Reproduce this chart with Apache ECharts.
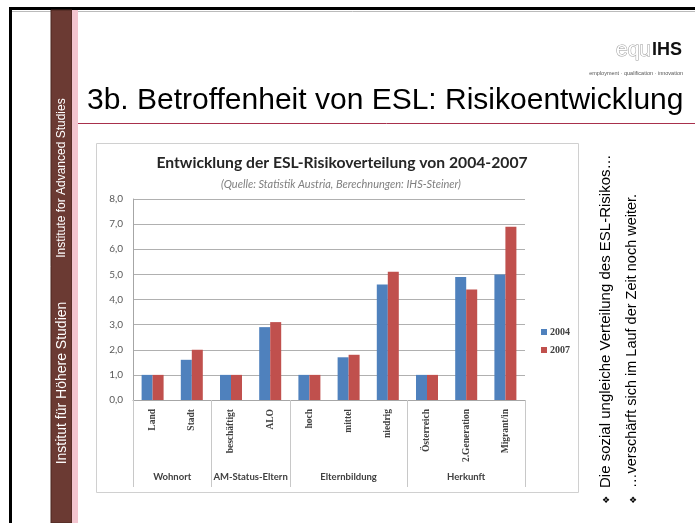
<!DOCTYPE html>
<html>
<head>
<meta charset="utf-8">
<script src="https://cdn.jsdelivr.net/npm/echarts@6/dist/echarts.min.js"></script>
<style>
html, body { margin: 0; padding: 0; background: #fff; }
#chart { width: 695px; height: 523px; }
</style>
</head>
<body>
<div id="chart"></div>
<script>
// Daten
var categories = ['Land', 'Stadt', 'beschäftigt', 'ALO', 'hoch', 'mittel', 'niedrig', 'Österreich', '2.Generation', 'Migrant/in'];
var groups = ['Wohnort', 'AM-Status-Eltern', 'Elternbildung', 'Herkunft'];
var groupSizes = [2, 2, 3, 3];
var values2004 = [1.0, 1.6, 1.0, 2.9, 1.0, 1.7, 4.6, 1.0, 4.9, 5.0];
var values2007 = [1.0, 2.0, 1.0, 3.1, 1.0, 1.8, 5.1, 1.0, 4.4, 6.9];
var seriesNames = ['2004', '2007'];

// Gruppengrenzen und -mitten fuer die zweite Achsenebene
var groupBounds = [0];
var groupCenters = [];
groupSizes.forEach(function (n, i) {
    var start = groupBounds[i];
    groupBounds.push(start + n);
    groupCenters.push(start + n / 2);
});

var dom = document.getElementById('chart');
var chart = echarts.init(dom, null, { renderer: 'canvas' });

var sans = 'Lato, "Open Sans", sans-serif';
var arial = '"Liberation Sans", Arial, sans-serif';

chart.setOption({
    animation: false,
    backgroundColor: '#ffffff',
    title: [
        {
            text: 'Entwicklung der ESL-Risikoverteilung von 2004-2007',
            left: 337,
            top: 150,
            textAlign: 'center',
            textStyle: { fontFamily: sans, fontSize: 15.7, fontWeight: 'bold', color: '#262626' }
        },
        {
            text: '(Quelle: Statistik Austria, Berechnungen: IHS-Steiner)',
            left: 336,
            top: 174,
            textAlign: 'center',
            textStyle: { fontFamily: sans, fontSize: 11, fontStyle: 'italic', fontWeight: 'normal', color: '#7f7f7f' }
        }
    ],
    legend: {
        orient: 'vertical',
        left: 536,
        top: 322,
        itemWidth: 6,
        itemHeight: 6,
        itemGap: 8,
        icon: 'rect',
        data: seriesNames,
        textStyle: { fontFamily: '"Liberation Serif", serif', fontSize: 10, fontWeight: 'bold', color: '#404040', padding: [0, 0, 0, -2] }
    },
    grid: {
        left: 133,
        right: 170,
        top: 199,
        bottom: 123,
        containLabel: false
    },
    xAxis: [
        {
            type: 'category',
            data: categories,
            axisLine: { lineStyle: { color: '#a6a6a6' } },
            axisTick: { show: false },
            axisLabel: {
                rotate: 90,
                margin: 9,
                fontFamily: '"Liberation Serif", serif',
                fontSize: 9.5,
                fontWeight: 'bold',
                color: '#404040'
            }
        },
        {
            type: 'value',
            position: 'bottom',
            min: 0,
            max: categories.length,
            axisLine: { show: false },
            splitLine: { show: false },
            axisTick: {
                show: true,
                length: 87,
                customValues: groupBounds,
                lineStyle: { color: '#c8c8c8' }
            },
            axisLabel: {
                show: true,
                margin: 72,
                customValues: groupCenters,
                fontFamily: sans,
                fontSize: 9.5,
                fontWeight: 'bold',
                color: '#404040',
                formatter: function (v) {
                    var i = groupCenters.indexOf(v);
                    return i >= 0 ? groups[i] : '';
                }
            }
        }
    ],
    yAxis: {
        type: 'value',
        min: 0,
        max: 8,
        interval: 1,
        axisLine: { show: true, lineStyle: { color: '#a6a6a6' } },
        axisTick: { show: false },
        splitLine: { lineStyle: { color: '#b0b0b0' } },
        axisLabel: {
            margin: 10,
            fontFamily: sans,
            fontSize: 10,
            color: '#595959',
            formatter: function (v) { return v.toFixed(1).replace('.', ','); }
        }
    },
    series: [
        {
            name: seriesNames[0],
            type: 'bar',
            barWidth: 11,
            barGap: '0%',
            itemStyle: { color: '#4f81bd' },
            data: values2004
        },
        {
            name: seriesNames[1],
            type: 'bar',
            barWidth: 11,
            barGap: '0%',
            itemStyle: { color: '#c0504d' },
            data: values2007
        }
    ],
    graphic: [
        // Folienrahmen
        { type: 'line', shape: { x1: 10, y1: 8.5, x2: 695, y2: 8.5 }, style: { stroke: '#000', lineWidth: 3 } },
        { type: 'line', shape: { x1: 10, y1: 11.5, x2: 695, y2: 11.5 }, style: { stroke: '#bbbbbb', lineWidth: 1 } },
        { type: 'line', shape: { x1: 10.5, y1: 7, x2: 10.5, y2: 523 }, style: { stroke: '#000', lineWidth: 3 } },
        // linker Balken
        { type: 'rect', shape: { x: 51, y: 10, width: 21, height: 513 }, style: { fill: '#6b3a33', stroke: '#4a2620', lineWidth: 1 } },
        { type: 'rect', shape: { x: 72, y: 10, width: 6, height: 513 }, style: { fill: '#f3c5cf' } },
        {
            type: 'text', x: 62, y: 178, rotation: Math.PI / 2,
            style: { text: 'Institute for Advanced Studies', fill: '#ffffff', font: '12px ' + arial, textAlign: 'center', textVerticalAlign: 'middle' }
        },
        {
            type: 'text', x: 62, y: 383, rotation: Math.PI / 2,
            style: { text: 'Institut für Höhere Studien', fill: '#ffffff', font: '14px ' + arial, textAlign: 'center', textVerticalAlign: 'middle' }
        },
        // Logo
        {
            type: 'text', x: 651, y: 50,
            style: { text: 'equ', fill: '#ffffff', stroke: '#9a9a9a', lineWidth: 1, font: '21px ' + arial, textAlign: 'right', textVerticalAlign: 'middle' }
        },
        {
            type: 'text', x: 652, y: 50,
            style: { text: 'IHS', fill: '#111111', font: 'bold 18px ' + arial, textAlign: 'left', textVerticalAlign: 'middle' }
        },
        {
            type: 'text', x: 683, y: 73,
            style: { text: 'employment · qualification · innovation', fill: '#555555', font: '5.5px ' + arial, textAlign: 'right', textVerticalAlign: 'middle' }
        },
        // Folientitel
        {
            type: 'text', x: 87, y: 101,
            style: { text: '3b. Betroffenheit von ESL: Risikoentwicklung', fill: '#000000', font: '30px ' + arial, textAlign: 'left', textVerticalAlign: 'middle' }
        },
        { type: 'line', shape: { x1: 78, y1: 123.5, x2: 695, y2: 123.5 }, style: { stroke: '#a8304c', lineWidth: 1 } },
        // Diagrammrahmen
        { type: 'rect', z: -10, shape: { x: 96.5, y: 143.5, width: 482, height: 349 }, style: { fill: 'none', stroke: '#d0d0d0', lineWidth: 1 } },
        // Aufzaehlung rechts
        {
            type: 'text', x: 606, y: 501,
            style: { text: '❖', fill: '#000', font: '9px "DejaVu Sans"', textAlign: 'center', textVerticalAlign: 'middle' }
        },
        {
            type: 'text', x: 606, y: 488, rotation: Math.PI / 2,
            style: { text: 'Die sozial ungleiche Verteilung des ESL-Risikos…', fill: '#000', font: '15px ' + arial, textAlign: 'left', textVerticalAlign: 'middle' }
        },
        {
            type: 'text', x: 633, y: 501,
            style: { text: '❖', fill: '#000', font: '9px "DejaVu Sans"', textAlign: 'center', textVerticalAlign: 'middle' }
        },
        {
            type: 'text', x: 632, y: 488, rotation: Math.PI / 2,
            style: { text: '…verschärft sich im Lauf der Zeit noch weiter.', fill: '#000', font: '14.5px ' + arial, textAlign: 'left', textVerticalAlign: 'middle' }
        }
    ]
});

window.addEventListener('resize', chart.resize);
</script>
</body>
</html>
